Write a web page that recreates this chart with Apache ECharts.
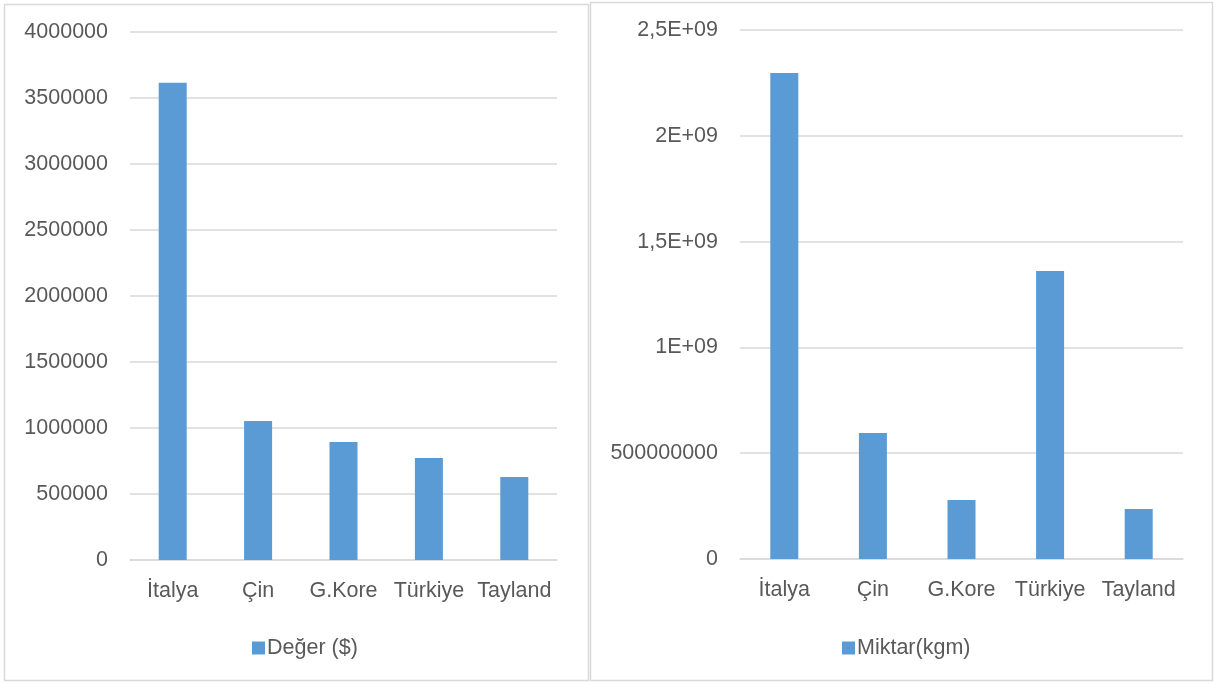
<!DOCTYPE html>
<html><head><meta charset="utf-8">
<script src="https://cdn.jsdelivr.net/npm/echarts@6/dist/echarts.min.js"></script>
<style>html,body{margin:0;padding:0;background:#fff}#c{width:1215px;height:684px}</style>
</head><body><div id="c"></div>
<script>
const categories = ['İtalya', 'Çin', 'G.Kore', 'Türkiye', 'Tayland'];
const degerValues = [3615000, 1053000, 894000, 773000, 629000];
const miktarValues = [2297000000, 595000000, 279000000, 1361000000, 236000000];
const leftName = 'Değer ($)';
const rightName = 'Miktar(kgm)';
const rightTickLabels = {0: '0', 500000000: '500000000', 1000000000: '1E+09', 1500000000: '1,5E+09', 2000000000: '2E+09', 2500000000: '2,5E+09'};

const font = 'Liberation Sans';
const txt = '#595959';
const fs = 21.5;
const chart = echarts.init(document.getElementById('c'));
const xAxisCommon = {
  type: 'category', data: categories,
  axisLine: {show: true, lineStyle: {color: '#d9d9d9', width: 1.5}},
  axisTick: {show: false},
  axisLabel: {color: txt, fontSize: fs, fontFamily: font, margin: 20, interval: 0}
};
const yAxisCommon = {
  type: 'value', min: 0,
  axisLine: {show: false}, axisTick: {show: false},
  splitLine: {lineStyle: {color: '#d9d9d9', width: 1.5}},
  axisLabel: {color: txt, fontSize: fs, fontFamily: font, margin: 22}
};
chart.setOption({
  animation: false,
  graphic: [
    {type: 'rect', shape: {x: 4.5, y: 4.5, width: 584, height: 676}, style: {fill: 'none', stroke: '#d9d9d9', lineWidth: 1.5}},
    {type: 'rect', shape: {x: 590.5, y: 2.5, width: 622, height: 678}, style: {fill: 'none', stroke: '#d9d9d9', lineWidth: 1.5}}
  ],
  grid: [
    {left: 130, top: 32, width: 427, height: 528},
    {left: 740, top: 30, width: 443, height: 529}
  ],
  legend: [
    {data: [leftName], left: 247, top: 632, itemWidth: 13, itemHeight: 13, itemGap: 5, icon: 'rect',
     textStyle: {color: txt, fontSize: fs, fontFamily: font, padding: [0,0,0,-3]}},
    {data: [rightName], left: 837, top: 632, itemWidth: 13, itemHeight: 13, itemGap: 5, icon: 'rect',
     textStyle: {color: txt, fontSize: fs, fontFamily: font, padding: [0,0,0,-3]}}
  ],
  xAxis: [
    Object.assign({gridIndex: 0}, xAxisCommon),
    Object.assign({gridIndex: 1}, xAxisCommon)
  ],
  yAxis: [
    Object.assign({}, yAxisCommon, {gridIndex: 0, max: 4000000, interval: 500000,
      axisLabel: Object.assign({}, yAxisCommon.axisLabel, {formatter: v => String(v)})}),
    Object.assign({}, yAxisCommon, {gridIndex: 1, max: 2500000000, interval: 500000000,
      axisLabel: Object.assign({}, yAxisCommon.axisLabel, {formatter: v => rightTickLabels[v] !== undefined ? rightTickLabels[v] : String(v)})})
  ],
  series: [
    {name: leftName, type: 'bar', xAxisIndex: 0, yAxisIndex: 0, data: degerValues, barWidth: 28,
     itemStyle: {color: '#5b9bd5'}},
    {name: rightName, type: 'bar', xAxisIndex: 1, yAxisIndex: 1, data: miktarValues, barWidth: 28,
     itemStyle: {color: '#5b9bd5'}}
  ]
});
</script></body></html>
